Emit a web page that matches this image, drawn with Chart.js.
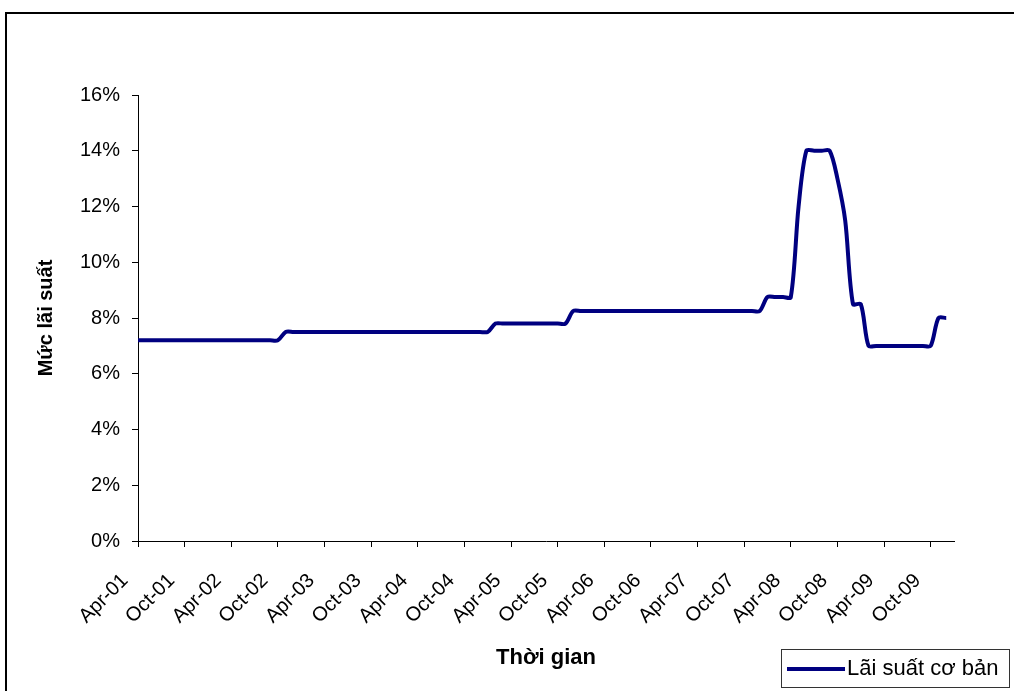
<!DOCTYPE html>
<html>
<head>
<meta charset="utf-8">
<script src="https://cdn.jsdelivr.net/npm/chart.js@4.4.0/dist/chart.umd.min.js"></script>
<style>
  body { margin: 0; background: #fff; }
  #wrap { width: 1014px; height: 691px; }
</style>
</head>
<body>
<div id="wrap"><canvas id="mycanvas" width="1014" height="691"></canvas></div>
<script>
// monthly categories, Apr-01 .. Jan-10 (last one has no data, it only closes the axis)
var months = [
	'Apr-01','May-01','Jun-01','Jul-01','Aug-01','Sep-01','Oct-01','Nov-01','Dec-01',
	'Jan-02','Feb-02','Mar-02','Apr-02','May-02','Jun-02','Jul-02','Aug-02','Sep-02','Oct-02','Nov-02','Dec-02',
	'Jan-03','Feb-03','Mar-03','Apr-03','May-03','Jun-03','Jul-03','Aug-03','Sep-03','Oct-03','Nov-03','Dec-03',
	'Jan-04','Feb-04','Mar-04','Apr-04','May-04','Jun-04','Jul-04','Aug-04','Sep-04','Oct-04','Nov-04','Dec-04',
	'Jan-05','Feb-05','Mar-05','Apr-05','May-05','Jun-05','Jul-05','Aug-05','Sep-05','Oct-05','Nov-05','Dec-05',
	'Jan-06','Feb-06','Mar-06','Apr-06','May-06','Jun-06','Jul-06','Aug-06','Sep-06','Oct-06','Nov-06','Dec-06',
	'Jan-07','Feb-07','Mar-07','Apr-07','May-07','Jun-07','Jul-07','Aug-07','Sep-07','Oct-07','Nov-07','Dec-07',
	'Jan-08','Feb-08','Mar-08','Apr-08','May-08','Jun-08','Jul-08','Aug-08','Sep-08','Oct-08','Nov-08','Dec-08',
	'Jan-09','Feb-09','Mar-09','Apr-09','May-09','Jun-09','Jul-09','Aug-09','Sep-09','Oct-09','Nov-09','Dec-09',
	'Jan-10'
];

// base rate, % per year
var baseRate = [
	7.2, 7.2, 7.2, 7.2, 7.2, 7.2, 7.2, 7.2, 7.2,
	7.2, 7.2, 7.2, 7.2, 7.2, 7.2, 7.2, 7.2, 7.2, 7.2, 7.5, 7.5,
	7.5, 7.5, 7.5, 7.5, 7.5, 7.5, 7.5, 7.5, 7.5, 7.5, 7.5, 7.5,
	7.5, 7.5, 7.5, 7.5, 7.5, 7.5, 7.5, 7.5, 7.5, 7.5, 7.5, 7.5,
	7.5, 7.8, 7.8, 7.8, 7.8, 7.8, 7.8, 7.8, 7.8, 7.8, 7.8, 8.25,
	8.25, 8.25, 8.25, 8.25, 8.25, 8.25, 8.25, 8.25, 8.25, 8.25, 8.25, 8.25,
	8.25, 8.25, 8.25, 8.25, 8.25, 8.25, 8.25, 8.25, 8.25, 8.25, 8.25, 8.25,
	8.75, 8.75, 8.75, 8.75, 12, 14, 14, 14, 14, 13, 11.5, 8.5,
	8.5, 7, 7, 7, 7, 7, 7, 7, 7, 7, 8, 8
];

var yTicks = [0, 2, 4, 6, 8, 10, 12, 14, 16];
var seriesName = 'Lãi suất cơ bản';
var xTitle = 'Thời gian';
var yTitle = 'Mức lãi suất';

var FONT = '"Liberation Sans", Arial, sans-serif';
var LINE = '#000080';

Chart.defaults.font.family = FONT;
Chart.defaults.font.size = 20;
Chart.defaults.color = '#000';

// frame around the whole chart + legend box in the lower right
var frame = {
	id: 'frame',
	beforeDraw: function(chart) {
		var c = chart.ctx;
		c.save();
		c.fillStyle = '#fff';
		c.fillRect(0, 0, chart.width, chart.height);
		c.restore();
	},
	afterDraw: function(chart) {
		var c = chart.ctx;
		c.save();
		c.strokeStyle = '#000';
		c.lineWidth = 2;
		c.strokeRect(6, 13, 1030, 700);

		c.lineWidth = 1;
		c.strokeStyle = '#333';
		c.strokeRect(781.5, 649.5, 228, 38);
		c.strokeStyle = LINE;
		c.lineWidth = 4;
		c.beginPath();
		c.moveTo(787, 669);
		c.lineTo(845, 669);
		c.stroke();
		c.fillStyle = '#000';
		c.font = '22px ' + FONT;
		c.textBaseline = 'middle';
		c.fillText(chart.data.datasets[0].label, 847, 669);
		c.restore();
	}
};

var ctx = document.getElementById('mycanvas');

var chart = new Chart(ctx, {
	type: 'line',
	data: {
		labels: months,
		datasets: [{
			label: seriesName,
			data: baseRate,
			borderColor: LINE,
			backgroundColor: LINE,
			borderWidth: 4,
			tension: 0.3,
			pointRadius: 0,
			fill: false,
			borderJoinStyle: 'round'
		}]
	},
	options: {
		responsive: false,
		animation: false,
		devicePixelRatio: 1,
		layout: { padding: { top: 95, right: 60, bottom: 0, left: 0 } },
		plugins: {
			legend: { display: false },
			tooltip: { enabled: false }
		},
		scales: {
			x: {
				type: 'category',
				offset: false,
				afterFit: function(s) { s.height = 150; },
				grid: { drawOnChartArea: false, drawTicks: true, tickLength: 6, color: '#000' },
				border: { color: '#000', width: 1 },
				ticks: {
					autoSkip: false,
					minRotation: 45,
					maxRotation: 45,
					padding: 22,
					labelOffset: -13,
					callback: function(v, i) { return i % 6 === 0 ? months[i] : null; }
				},
				title: {
					display: true,
					text: xTitle,
					font: { size: 22, weight: 'bold' },
					padding: { top: 0, bottom: 20 }
				}
			},
			y: {
				min: 0,
				max: 16,
				afterFit: function(s) { s.width = 138; },
				afterBuildTicks: function(s) {
					s.ticks = yTicks.map(function(v) { return { value: v }; });
				},
				grid: { drawOnChartArea: false, drawTicks: true, tickLength: 6, color: '#000' },
				border: { color: '#000', width: 1 },
				ticks: {
					padding: 12,
					callback: function(v) { return v + '%'; }
				},
				title: {
					display: true,
					text: yTitle,
					font: { size: 20, weight: 'bold' },
					padding: { top: 34, bottom: 0 }
				}
			}
		}
	},
	plugins: [frame]
});
</script>
</body>
</html>
